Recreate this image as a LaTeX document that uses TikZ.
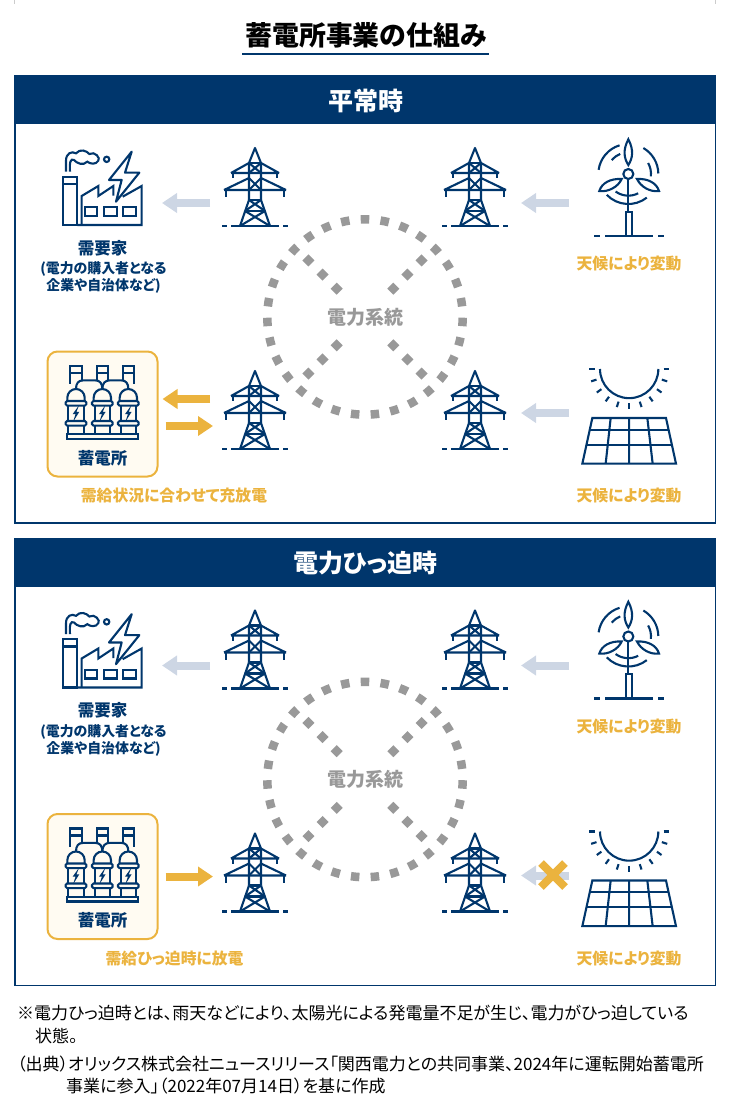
\documentclass[tikz,border=0pt]{standalone}
\usepackage{fontspec}
\usepackage{tikz}
\usetikzlibrary{arrows.meta}
\setmainfont[RawFeature=+palt]{Noto Sans CJK JP}
\definecolor{navy}{HTML}{00366C}
\definecolor{gold}{HTML}{EBB33E}
\definecolor{paleblue}{HTML}{CDD6E4}
\definecolor{griddot}{HTML}{999999}
\definecolor{cream}{HTML}{FFFBF2}
\newcommand{\fsz}[1]{\fontsize{#1pt}{#1pt}\selectfont}
\tikzset{
  iconline/.style={navy,line width=2.1pt},
  iconbox/.style={inner sep=0pt,outer sep=0pt,minimum height=10pt},
  navytext/.style={navy,inner sep=0pt,font=\fsz{16.5}\bfseries},
  goldtext/.style={gold,inner sep=0pt,font=\fsz{15.8}\bfseries},
  notetext/.style={black,inner sep=0pt,anchor=west,font=\fsz{17}},
  paleflow/.style={paleblue,line width=8pt,-{Triangle[length=15pt,width=19pt]}},
  goldflow/.style={gold,line width=8pt,-{Triangle[length=15pt,width=19pt]}},
  griddash/.style={griddot,line width=8.5pt},
  towerpic/.pic={
    \draw[iconline,line join=round] (-6,52) -- (-6,15) -- (0,0) -- (6,15) -- (6,52);
    \draw[iconline] (-6,52) -- (-15,78) (6,52) -- (15,78);
    \draw[iconline] (-6,15) -- (6,15) (-6,52) -- (6,52) (-10,63) -- (10,63);
    \draw[iconline] (-24,25) -- (24,25) (-24,25) -- (-6,15) (24,25) -- (6,15);
    \draw[iconline] (-31,42) -- (31,42) (-31,42) -- (-6,30) (31,42) -- (6,30);
    \draw[iconline] (-22,25) -- (-22,30) (22,25) -- (22,30) (-29,42) -- (-29,49) (29,42) -- (29,49);
    \draw[iconline] (-6,15) -- (6,25) (6,15) -- (-6,25) (-6,30) -- (6,42) (6,30) -- (-6,42);
    \draw[iconline] (-6,52) -- (10,63) (6,52) -- (-10,63) (-10,63) -- (15,78) (10,63) -- (-15,78);
    \draw[iconline] (-33,78) -- (-28,78) (-24,78) -- (24,78) (28,78) -- (33,78);
  },
  factorypic/.pic={
    \draw[iconline] (98,140) rectangle (142,285);
    \draw[iconline] (98,162) -- (142,162);
    \draw[iconline] (142,285) -- (335,285) -- (335,168) -- (278,200);
    \draw[iconline] (155,285) -- (155,198) -- (205,168) -- (205,198) -- (250,168) -- (250,197);
    \draw[iconline] (165,232) rectangle (200,258) (222,232) rectangle (260,258) (278,232) rectangle (318,258);
    \draw[iconline,line join=round] (305,65) -- (237,150) -- (275,150) -- (258,215) -- (328,128) -- (285,128) -- cycle;
    \draw[iconline] (108,125) -- (108,92) .. controls (108,70) and (125,62) .. (138,70)
      .. controls (150,55) and (170,62) .. (178,72) .. controls (195,62) and (212,85) .. (205,92)
      .. controls (198,105) and (180,102) .. (172,95) .. controls (160,108) and (140,100) .. (132,90)
      .. controls (122,85) and (118,95) .. (120,125);
    \draw[iconline] (230,88) circle (8);
  },
  windpic/.pic={
    \draw[iconline] (355,132) circle (15);
    \draw[iconline] (355,147) -- (355,245);
    \draw[iconline] (347,318) -- (347,245) -- (367,245) -- (367,318);
    \draw[iconline] (253,318) -- (270,318) (285,318) -- (430,318) (445,318) -- (462,318);
    \draw[iconline] (355,28) .. controls (338,60) and (342,85) .. (355,105) .. controls (368,85) and (372,60) .. (355,28) -- cycle;
    \draw[iconline] (335,147) .. controls (300,145) and (275,160) .. (268,183) .. controls (295,187) and (325,170) .. (335,147) -- cycle;
    \draw[iconline] (381,147) .. controls (415,145) and (440,160) .. (447,183) .. controls (420,187) and (392,170) .. (381,147) -- cycle;
    \draw[iconline] (355,132) ++(188:90) arc[start angle=188,end angle=253,radius=90];
    \draw[iconline] (355,132) ++(300:90) arc[start angle=300,end angle=359,radius=90];
    \draw[iconline] (355,132) ++(52:90) arc[start angle=52,end angle=136,radius=90];
    \draw[iconline] (355,132) ++(220:65) arc[start angle=220,end angle=248,radius=65];
    \draw[iconline] (355,132) ++(331:68) arc[start angle=331,end angle=366,radius=68];
    \draw[iconline] (355,132) ++(63:65) arc[start angle=63,end angle=126,radius=65];
  },
  solarpic/.pic={
    \draw[iconline] (510,33) arc[start angle=180,end angle=0,radius=87.5];
    \foreach \a in {0,18,...,180}
      \draw[iconline] (597.5,33) ++(\a:103) -- ++(\a:17);
    \draw[iconline] (487,180) -- (708,180) -- (738,317) -- (457,317) -- cycle;
    \draw[iconline] (479,215) -- (716,215) (469,260) -- (726,260);
    \draw[iconline] (542,180) -- (527,317) (597.5,180) -- (597.5,317) (652,180) -- (668,317);
  },
  storagepic/.pic={
    \foreach \cx in {78,157,235} {
      \draw[iconline] (\cx-17,76) -- (\cx-17,33) -- (\cx+17,33) -- (\cx+17,76) (\cx-17,54) -- (\cx+17,54);
      \draw[iconline] (\cx-26,138) -- (\cx-26,128) arc[start angle=180,end angle=360,radius=26] -- (\cx+26,138);
      \draw[iconline,rounded corners=1.5pt] (\cx-31,138) rectangle (\cx+31,152);
      \draw[iconline,rounded corners=1.5pt] (\cx-31,198) rectangle (\cx+31,212);
      \draw[iconline] (\cx-23,152) -- (\cx-23,198) (\cx+23,152) -- (\cx+23,198);
      \draw[iconline] (\cx-23,212) -- (\cx-23,238) (\cx+23,212) -- (\cx+23,238);
      \draw[navy,line width=1.1pt] (\cx+3,162) -- (\cx-7,176) -- (\cx+1,176) -- (\cx-3,188) -- (\cx+7,172) -- (\cx-1,172) -- cycle;
    }
    \draw[iconline] (61,76) -- (61,88) (252,76) -- (252,88);
    \draw[iconline] (78,102) .. controls (78,85) and (85,76) .. (100,76) -- (135,76) .. controls (150,76) and (157,85) .. (157,102);
    \draw[iconline] (157,102) .. controls (157,85) and (165,76) .. (180,76) -- (213,76) .. controls (228,76) and (235,85) .. (235,102);
    \draw[iconline] (50,238) rectangle (265,252);
  },
}
\begin{document}
\begin{tikzpicture}[x=1pt,y=-1pt]
\useasboundingbox (0,0) rectangle (730,1115);
% top marks and title
\draw[black!20,line width=1pt] (14.5,0) -- (14.5,4) (715.5,0) -- (715.5,4);
\node[inner sep=0pt,font=\fsz{26.9}\bfseries] (title) at (366,35) {蓄電所事業の仕組み};
\draw[navy,line width=2pt] (242,54) -- (489,54);
% two panels, same layout
\foreach \pn/\oy/\hd in {N/0/平常時,T/462.5/電力ひっ迫時} {
  \draw[navy,line width=1.5pt] (14.75,76+\oy) rectangle (715.25,523+\oy);
  \fill[navy] (14,76+\oy) rectangle (716,124+\oy);
  \node[white,inner sep=0pt,font=\fsz{25}\bfseries] (head\pn) at (365.5,101+\oy) {\hd};
  % grid circle
  \node[griddot,inner sep=0pt,font=\fsz{19}\bfseries] (grid\pn) at (365,317+\oy) {電力系統};
  \draw[griddash,dash pattern=on 8.5pt off 11.302pt,dash phase=4.25pt] ([yshift=97.7pt]grid\pn.center) arc[start angle=-90,delta angle=360,radius=97.7];
  \foreach \sx/\sy in {1/1,1/-1,-1/1,-1/-1}
    \draw[griddash,dash pattern=on 8.5pt off 11.5pt] ([shift={(25.3*\sx pt,25.3*\sy pt)}]grid\pn.center) -- ([shift={(59.7*\sx pt,59.7*\sy pt)}]grid\pn.center);
  % icons
  \node[iconbox,minimum width=62pt] (towerA\pn) at (255,203+\oy) {};
  \node[iconbox,minimum width=62pt] (towerB\pn) at (475,203+\oy) {};
  \node[iconbox,minimum width=62pt] (towerC\pn) at (255,414+\oy) {};
  \node[iconbox,minimum width=62pt] (towerD\pn) at (475,413+\oy) {};
  \pic at (255,148+\oy) {towerpic};
  \pic at (475,148+\oy) {towerpic};
  \pic at (255,371+\oy) {towerpic};
  \pic at (475,371+\oy) {towerpic};
  \node[iconbox,minimum width=80pt] (factory\pn) at (102,203+\oy) {};
  \pic[scale=1/3] at (30,130+\oy) {factorypic};
  \node[iconbox,minimum width=70pt] (wind\pn) at (629,203+\oy) {};
  \pic[scale=1/3] at (510,130+\oy) {windpic};
  \node[iconbox,minimum width=94pt] (solar\pn) at (629,413+\oy) {};
  \pic[scale=1/3] at (430,358+\oy) {solarpic};
  \node[draw=gold,fill=cream,line width=2pt,rounded corners=10pt,minimum width=110pt,minimum height=125pt,inner sep=0pt] (storage\pn) at (102.5,414+\oy) {};
  \pic[scale=1/3] at (50,355+\oy) {storagepic};
  % arrows
  \draw[paleflow] ([xshift=-14pt]towerA\pn.west) -- ([xshift=20pt]factory\pn.east);
  \draw[paleflow] ([xshift=-25pt]wind\pn.west) -- ([xshift=15pt]towerB\pn.east);
  \draw[paleflow] ([xshift=-13pt]solar\pn.west) -- ([xshift=15pt]towerD\pn.east);
  % labels
  \node[navytext] (factorylabel\pn) at (102.5,248+\oy) {需要家};
  \node[navytext,font=\fsz{13.9}\bfseries] (factorynoteA\pn) at (103.5,269+\oy) {(電力の購入者となる};
  \node[navytext,font=\fsz{13.9}\bfseries] (factorynoteB\pn) at (103.5,286+\oy) {企業や自治体など)};
  \node[navytext] (storagelabel\pn) at (102.5,458+\oy) {蓄電所};
  \node[goldtext] (windlabel\pn) at (629,264+\oy) {天候により変動};
  \node[goldtext] (solarlabel\pn) at (629,496+\oy) {天候により変動};
}
% what differs between the panels
\node[goldtext] (storagenoteN) at (174,496) {需給状況に合わせて充放電};
\node[goldtext] (storagenoteT) at (174.5,958.5) {需給ひっ迫時に放電};
\draw[goldflow] ([shift={(-14pt,15pt)}]towerCN.west) -- ([shift={(4pt,15pt)}]storageN.east);
\draw[goldflow] ([shift={(7pt,-12pt)}]storageN.east) -- ([shift={(-11pt,-12pt)}]towerCN.west);
\draw[goldflow] ([xshift=7pt]storageT.east) -- ([xshift=-11pt]towerCT.west);
\coordinate (crossmark) at (553,875);
\draw[gold,line width=8pt] ([shift={(-12pt,-12pt)}]crossmark) -- ([shift={(12pt,12pt)}]crossmark);
\draw[gold,line width=8pt] ([shift={(-12pt,12pt)}]crossmark) -- ([shift={(12pt,-12pt)}]crossmark);
% notes
\node[notetext] (noteA) at (17,1013) {※電力ひっ迫時とは、雨天などにより、太陽光による発電量不足が生じ、電力がひっ迫している};
\node[notetext] (noteB) at (35,1036) {状態。};
\node[notetext] (noteC) at (17,1064) {（出典）オリックス株式会社ニュースリリース「関西電力との共同事業、2024年に運転開始蓄電所};
\node[notetext] (noteD) at (66,1086) {事業に参入」（2022年07月14日）を基に作成};
\end{tikzpicture}
\end{document}
